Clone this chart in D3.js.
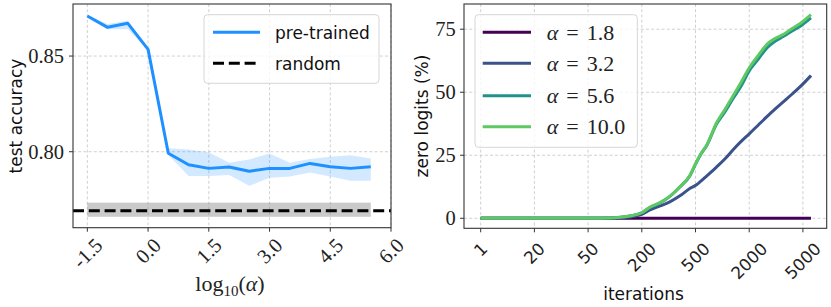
<!DOCTYPE html>
<html><head><meta charset="utf-8">
<script src="https://cdn.jsdelivr.net/npm/d3@7/dist/d3.min.js"></script>
<style>
body{margin:0;background:#fff;}
svg{display:block;}
</style></head>
<body><svg id="c" width="831" height="307"></svg>
<script>
// ---------- Left panel data ----------
const logAlpha = [-1.5,-1.0,-0.5,0.0,0.5,1.0,1.5,2.0,2.5,3.0,3.5,4.0,4.5,5.0,5.5];
const pretrainedMean = [0.8709,0.8650,0.8671,0.8535,0.7992,0.7932,0.7913,0.7920,0.7898,0.7913,0.7913,0.7939,0.7922,0.7913,0.7922];
const pretrainedUpper = [0.8715,0.8668,0.8685,0.8540,0.8018,0.8012,0.7997,0.7943,0.7960,0.7991,0.7943,0.7962,0.7974,0.7981,0.7965];
const pretrainedLower = [0.8703,0.8640,0.8640,0.8530,0.7983,0.7873,0.7873,0.7878,0.7822,0.7864,0.7870,0.7892,0.7870,0.7849,0.7849];
const randomMean = 0.7692;
const randomLower = 0.7660;
const randomUpper = 0.7734;
const randomSpan = [-1.5, 5.5];
const leftXTicks = [-1.5,0.0,1.5,3.0,4.5,6.0];
const leftYTicks = [0.80,0.85];
const leftLegend = ["pre-trained","random"];

// ---------- Right panel data ----------
const iterTickLabels = ["1","20","50","200","500","2000","5000"];
const iterPos = [0,1,2,2.4,2.6,2.8,3.0,3.15,3.34,3.53,3.71,3.9,4.02,4.1,4.21,4.39,4.55,4.7,4.85,5.01,5.17,5.33,5.48,5.64,5.8,5.95,6.15];
const zeroA18  = [0,0,0,0,0,0,0,0,0,0,0,0,0,0,0,0,0,0,0,0,0,0,0,0,0,0,0];
const zeroA32  = [0,0,0,0.05,0.2,0.6,1.6,3.3,4.9,6.6,8.9,11.9,13.3,14.7,16.8,20.3,23.6,27.2,30.5,33.7,37.0,40.3,43.3,46.3,49.3,52.2,56.6];
const zeroA56  = [0,0,0,0.1,0.4,1.0,2.2,4.3,6.1,8.8,12.4,17.0,22.3,25.4,28.9,37.3,42.3,47.5,52.5,58.8,63.2,67.6,70.2,72.2,74.3,76.2,79.5];
const zeroA100 = [0,0,0,0.1,0.4,1.0,2.2,4.4,6.2,8.9,12.5,17.2,22.5,25.6,29.1,37.8,43.2,48.6,54.0,60.0,64.6,69.0,71.3,73.0,75.3,77.3,80.8];
const alphaLabels = ["1.8","3.2","5.6","10.0"];
const alphaColors = ["#440154","#3b528b","#21918c","#5ec962"];
const rightYTicks = [0,25,50,75];

const svg = d3.select("#c");
const SANS = "DejaVu Sans";
const SERIF = "Liberation Serif";
const SFS = 17;
const gridStyle = g => g.attr("stroke","#c4c4c4").attr("stroke-width",0.8).attr("stroke-dasharray","3,2.2");

function rotLabels(g, ticks, x, top, fs, family, fmt){
  ticks.forEach((t,i)=>{
    const txt = g.append("text").attr("font-family",family).attr("font-size",fs)
      .attr("fill","#222").attr("text-anchor","middle").text(fmt(t,i));
    const w = txt.node().getComputedTextLength();
    const h = fs*0.7;
    const cx = x(t), cy = top + (w+h)/(2*Math.SQRT2);
    txt.attr("x",cx).attr("y",cy).attr("dy","0.35em").attr("transform",`rotate(-45,${cx},${cy})`);
  });
}

// ================= LEFT PANEL =================
{
  const L=73,R=391,T=4,B=227.7;
  const x = d3.scaleLinear().domain([-1.854,6.0]).range([L,R]);
  const y = d3.scaleLinear().domain([0.7603,0.8772]).range([B,T]);
  const g = svg.append("g");
  const clipId="clipL";
  svg.append("clipPath").attr("id",clipId).append("rect").attr("x",L).attr("y",T).attr("width",R-L).attr("height",B-T);
  const gg = g.append("g");
  leftXTicks.forEach(t=>gg.append("line").attr("x1",x(t)).attr("x2",x(t)).attr("y1",T).attr("y2",B).call(gridStyle));
  leftYTicks.forEach(t=>gg.append("line").attr("x1",L).attr("x2",R).attr("y1",y(t)).attr("y2",y(t)).call(gridStyle));
  const pg = g.append("g").attr("clip-path",`url(#${clipId})`);
  pg.append("rect").attr("x",x(randomSpan[0])).attr("width",x(randomSpan[1])-x(randomSpan[0]))
    .attr("y",y(randomUpper)).attr("height",y(randomLower)-y(randomUpper))
    .attr("fill","#808080").attr("fill-opacity",0.42);
  const area = d3.area().x((d,i)=>x(logAlpha[i])).y0((d,i)=>y(pretrainedLower[i])).y1((d,i)=>y(pretrainedUpper[i]));
  pg.append("path").datum(logAlpha).attr("d",area).attr("fill","#1e90ff").attr("fill-opacity",0.2);
  pg.append("line").attr("x1",L).attr("x2",R+2).attr("y1",y(randomMean)).attr("y2",y(randomMean))
    .attr("stroke","#000").attr("stroke-width",3).attr("stroke-dasharray","11,4.8");
  const line = d3.line().x((d,i)=>x(logAlpha[i])).y((d,i)=>y(pretrainedMean[i]));
  pg.append("path").datum(logAlpha).attr("d",line).attr("fill","none").attr("stroke","#1e90ff")
    .attr("stroke-width",3).attr("stroke-linejoin","round");
  g.append("rect").attr("x",L).attr("y",T).attr("width",R-L).attr("height",B-T).attr("fill","none")
    .attr("stroke","#333").attr("stroke-width",1.1);
  leftXTicks.forEach(t=>g.append("line").attr("x1",x(t)).attr("x2",x(t)).attr("y1",B).attr("y2",B+4).attr("stroke","#333"));
  leftYTicks.forEach(t=>g.append("line").attr("x1",L-4).attr("x2",L).attr("y1",y(t)).attr("y2",y(t)).attr("stroke","#333"));
  rotLabels(g,leftXTicks,x,236.5,20.5,SERIF,t=>d3.format(".1f")(t).replace("−","-"));
  leftYTicks.forEach(t=>g.append("text").attr("x",64).attr("y",y(t)).attr("dy","0.34em").attr("text-anchor","end")
    .attr("font-family",SERIF).attr("font-size",20.5).attr("fill","#222").text(d3.format(".2f")(t)));
  g.append("text").attr("transform","translate(21.5,116) rotate(-90)").attr("text-anchor","middle")
    .attr("font-family",SANS).attr("font-size",SFS).attr("fill","#111").text("test accuracy");
  const xl = g.append("text").attr("x",230).attr("y",291).attr("text-anchor","middle")
    .attr("font-family",SERIF).attr("font-size",22).attr("fill","#222");
  xl.append("tspan").text("log");
  xl.append("tspan").attr("font-size",15).attr("dy",5).text("10");
  xl.append("tspan").attr("dy",-5).text("(");
  xl.append("tspan").attr("font-style","italic").text("α");
  xl.append("tspan").text(")");
  const lg = g.append("g");
  lg.append("rect").attr("x",204).attr("y",14.7).attr("width",175).attr("height",68.6).attr("rx",3.5)
    .attr("fill","#fff").attr("fill-opacity",0.8).attr("stroke","#d6d6d6").attr("stroke-width",1);
  const ly=[32.3,63.3];
  lg.append("line").attr("x1",213).attr("x2",260).attr("y1",ly[0]).attr("y2",ly[0]).attr("stroke","#1e90ff").attr("stroke-width",3);
  lg.append("line").attr("x1",213).attr("x2",260).attr("y1",ly[1]).attr("y2",ly[1]).attr("stroke","#000").attr("stroke-width",3).attr("stroke-dasharray","11,4.8");
  leftLegend.forEach((s,i)=>lg.append("text").attr("x",275).attr("y",ly[i]+7).attr("font-family",SANS)
    .attr("font-size",SFS).attr("fill","#111").text(s));
}

// ================= RIGHT PANEL =================
{
  const L=464,R=826.7,T=4,B=228.3;
  const x = d3.scaleLinear().domain([-0.311,6.443]).range([L,R]);
  const y = d3.scaleLinear().domain([-3.97,85.0]).range([B,T]);
  const g = svg.append("g");
  svg.append("clipPath").attr("id","clipR").append("rect").attr("x",L).attr("y",T).attr("width",R-L).attr("height",B-T);
  const tickPos = iterTickLabels.map((d,i)=>i);
  tickPos.forEach(t=>g.append("line").attr("x1",x(t)).attr("x2",x(t)).attr("y1",T).attr("y2",B).call(gridStyle));
  rightYTicks.forEach(t=>g.append("line").attr("x1",L).attr("x2",R).attr("y1",y(t)).attr("y2",y(t)).call(gridStyle));
  const pg = g.append("g").attr("clip-path","url(#clipR)");
  const series=[zeroA18,zeroA32,zeroA56,zeroA100];
  series.forEach((s,k)=>{
    const line=d3.line().x((d,i)=>x(iterPos[i])).y(d=>y(d)).curve(d3.curveMonotoneX);
    pg.append("path").datum(s).attr("d",line).attr("fill","none").attr("stroke",alphaColors[k])
      .attr("stroke-width",3).attr("stroke-linejoin","round");
  });
  g.append("rect").attr("x",L).attr("y",T).attr("width",R-L).attr("height",B-T).attr("fill","none")
    .attr("stroke","#333").attr("stroke-width",1.1);
  tickPos.forEach(t=>g.append("line").attr("x1",x(t)).attr("x2",x(t)).attr("y1",B).attr("y2",B+4).attr("stroke","#333"));
  rightYTicks.forEach(t=>g.append("line").attr("x1",L-4).attr("x2",L).attr("y1",y(t)).attr("y2",y(t)).attr("stroke","#333"));
  rotLabels(g,tickPos,x,241.7,16.8,SANS,(t,i)=>iterTickLabels[i]);
  rightYTicks.forEach(t=>g.append("text").attr("x",455.7).attr("y",y(t)).attr("dy","0.34em").attr("text-anchor","end")
    .attr("font-family",SERIF).attr("font-size",20.5).attr("fill","#222").text(t));
  g.append("text").attr("transform","translate(427.8,116) rotate(-90)").attr("text-anchor","middle")
    .attr("font-family",SANS).attr("font-size",SFS).attr("fill","#111").text("zero logits (%)");
  g.append("text").attr("x",643.5).attr("y",300).attr("text-anchor","middle")
    .attr("font-family",SANS).attr("font-size",SFS).attr("fill","#111").text("iterations");
  const lg=g.append("g");
  lg.append("rect").attr("x",475).attr("y",14.7).attr("width",162.3).attr("height",132.6).attr("rx",3.5)
    .attr("fill","#fff").attr("fill-opacity",0.8).attr("stroke","#d6d6d6").attr("stroke-width",1);
  const ly=[32.3,63.3,95.7,126.7];
  alphaLabels.forEach((s,i)=>{
    lg.append("line").attr("x1",482.7).attr("x2",531).attr("y1",ly[i]).attr("y2",ly[i]).attr("stroke",alphaColors[i]).attr("stroke-width",3);
    const t=lg.append("text").attr("x",546.7).attr("y",ly[i]+7.5).attr("font-family",SERIF).attr("font-size",22).attr("fill","#222");
    t.append("tspan").attr("font-style","italic").text("α");
    t.append("tspan").attr("dx",8).text("=");
    t.append("tspan").attr("dx",8).text(s);
  });
}
</script></body></html>
